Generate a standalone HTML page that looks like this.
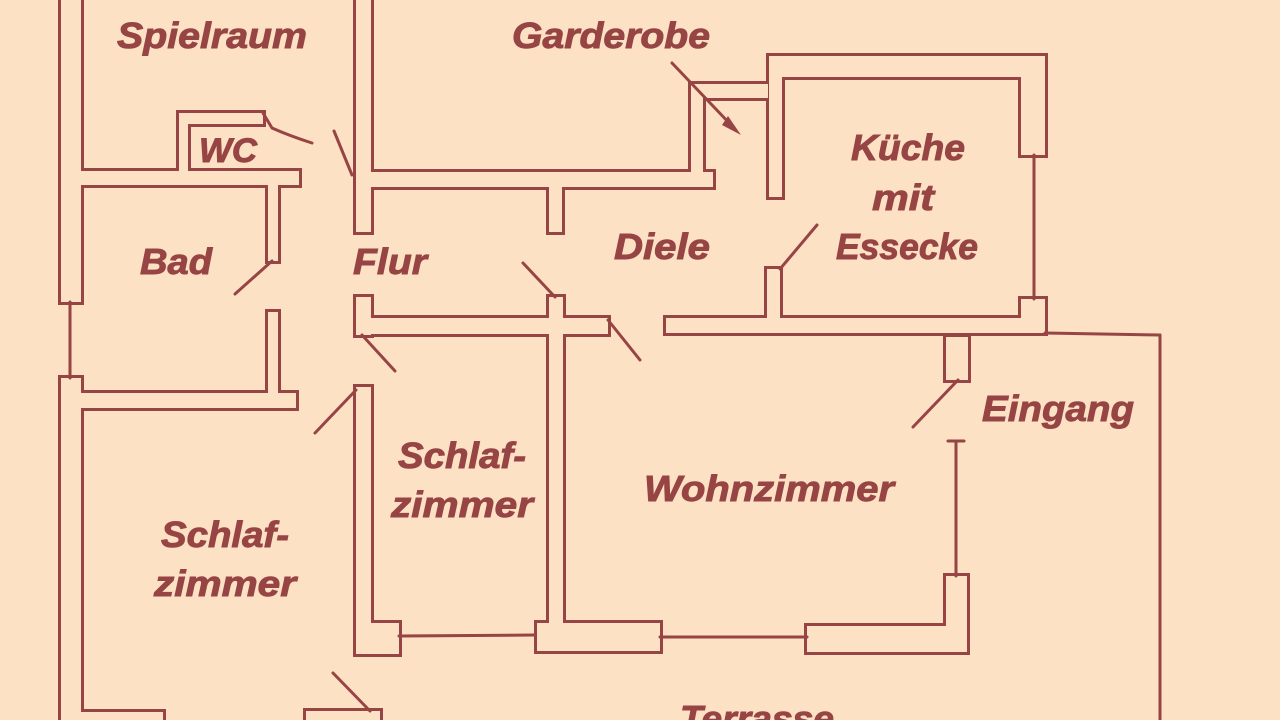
<!DOCTYPE html>
<html><head><meta charset="utf-8"><style>
html,body{margin:0;padding:0;background:#fde1c5;}
svg{display:block}
text{font-family:"Liberation Sans",sans-serif;font-weight:bold;font-style:italic;fill:#974444;stroke:#974444;stroke-width:0.9px;}
</style></head><body>
<svg width="1280" height="720" viewBox="0 0 1280 720" xmlns="http://www.w3.org/2000/svg">
<rect width="1280" height="720" fill="#fde1c5"/>
<defs>
<g id="walls">
  <rect x="61" y="-10" width="20" height="312"/>
  <rect x="61" y="378" width="20" height="360"/>
  <rect x="81" y="171" width="218" height="14"/>
  <rect x="179" y="113" width="9" height="60"/>
  <rect x="179" y="113" width="84" height="11"/>
  <rect x="268" y="185" width="10" height="76"/>
  <rect x="268" y="312" width="10" height="85"/>
  <rect x="81" y="393" width="215" height="15"/>
  <rect x="356" y="-10" width="15" height="242"/>
  <rect x="371" y="172" width="342" height="15"/>
  <rect x="549" y="187" width="13" height="45"/>
  <rect x="691" y="84" width="12" height="103"/>
  <rect x="691" y="84" width="77" height="14"/>
  <rect x="769" y="56" width="13" height="141"/>
  <rect x="769" y="56" width="276" height="21"/>
  <rect x="1021" y="56" width="24" height="99"/>
  <rect x="1021" y="299" width="24" height="34"/>
  <rect x="666" y="318" width="379" height="15"/>
  <rect x="767" y="269" width="13" height="49"/>
  <rect x="356" y="297" width="15" height="38"/>
  <rect x="356" y="318" width="252" height="16"/>
  <rect x="549" y="297" width="14" height="353"/>
  <rect x="356" y="387" width="15" height="267"/>
  <rect x="356" y="623" width="43" height="31"/>
  <rect x="537" y="623" width="123" height="28"/>
  <rect x="807" y="626" width="160" height="26"/>
  <rect x="946" y="576" width="21" height="76"/>
  <rect x="946" y="337" width="22" height="43"/>
  <rect x="81" y="712" width="82" height="20"/>
  <rect x="306" y="711" width="74" height="20"/>
</g>
</defs>
<use href="#walls" fill="#974444" stroke="#974444" stroke-width="6"/>
<use href="#walls" fill="#fde1c5" stroke="none"/>

<g stroke="#974444" stroke-width="3" fill="none" stroke-linecap="round">
  <line x1="70" y1="302" x2="70" y2="378"/>
  <line x1="1034" y1="155" x2="1034" y2="299"/>
  <line x1="1045" y1="333" x2="1160" y2="335"/>
  <line x1="1160" y1="335" x2="1160" y2="725"/>
  <line x1="399" y1="636" x2="535" y2="635"/>
  <line x1="660" y1="637" x2="807" y2="637"/>
  <line x1="956" y1="441" x2="956" y2="576"/>
  <line x1="948" y1="441" x2="964" y2="441"/>
  <path d="M263,113 L272,128 Q290,136 312,143"/>
  <line x1="334" y1="131" x2="352" y2="175"/>
  <line x1="272" y1="261" x2="235" y2="294"/>
  <line x1="523" y1="263" x2="555" y2="297"/>
  <line x1="608" y1="320" x2="640" y2="360"/>
  <line x1="362" y1="335" x2="395" y2="371"/>
  <line x1="356" y1="390" x2="315" y2="433"/>
  <line x1="780" y1="269" x2="817" y2="225"/>
  <line x1="958" y1="380" x2="913" y2="427"/>
  <line x1="333" y1="673" x2="370" y2="711"/>
  <line x1="672" y1="63" x2="732" y2="126"/>
</g>
<polygon points="728,116 741,135 722,125" fill="#974444"/>

<text x="212" y="48" text-anchor="middle" font-size="36" textLength="190" lengthAdjust="spacingAndGlyphs">Spielraum</text>
<text x="611" y="48" text-anchor="middle" font-size="36" textLength="198" lengthAdjust="spacingAndGlyphs">Garderobe</text>
<text x="228" y="162" text-anchor="middle" font-size="34" textLength="58" lengthAdjust="spacingAndGlyphs">WC</text>
<text x="908" y="160" text-anchor="middle" font-size="36" textLength="114" lengthAdjust="spacingAndGlyphs">Küche</text>
<text x="903" y="210" text-anchor="middle" font-size="36" textLength="62" lengthAdjust="spacingAndGlyphs">mit</text>
<text x="907" y="259" text-anchor="middle" font-size="36" textLength="142" lengthAdjust="spacingAndGlyphs">Essecke</text>
<text x="176" y="274" text-anchor="middle" font-size="36" textLength="72" lengthAdjust="spacingAndGlyphs">Bad</text>
<text x="390" y="274" text-anchor="middle" font-size="36" textLength="74" lengthAdjust="spacingAndGlyphs">Flur</text>
<text x="662" y="259" text-anchor="middle" font-size="36" textLength="96" lengthAdjust="spacingAndGlyphs">Diele</text>
<text x="1058" y="421" text-anchor="middle" font-size="36" textLength="152" lengthAdjust="spacingAndGlyphs">Eingang</text>
<text x="462" y="468" text-anchor="middle" font-size="36" textLength="128" lengthAdjust="spacingAndGlyphs">Schlaf-</text>
<text x="462" y="517" text-anchor="middle" font-size="36" textLength="142" lengthAdjust="spacingAndGlyphs">zimmer</text>
<text x="769" y="501" text-anchor="middle" font-size="36" textLength="250" lengthAdjust="spacingAndGlyphs">Wohnzimmer</text>
<text x="225" y="547" text-anchor="middle" font-size="36" textLength="128" lengthAdjust="spacingAndGlyphs">Schlaf-</text>
<text x="225" y="596" text-anchor="middle" font-size="36" textLength="142" lengthAdjust="spacingAndGlyphs">zimmer</text>
<text x="757" y="731" text-anchor="middle" font-size="36" textLength="154" lengthAdjust="spacingAndGlyphs">Terrasse</text>
</svg>
</body></html>
